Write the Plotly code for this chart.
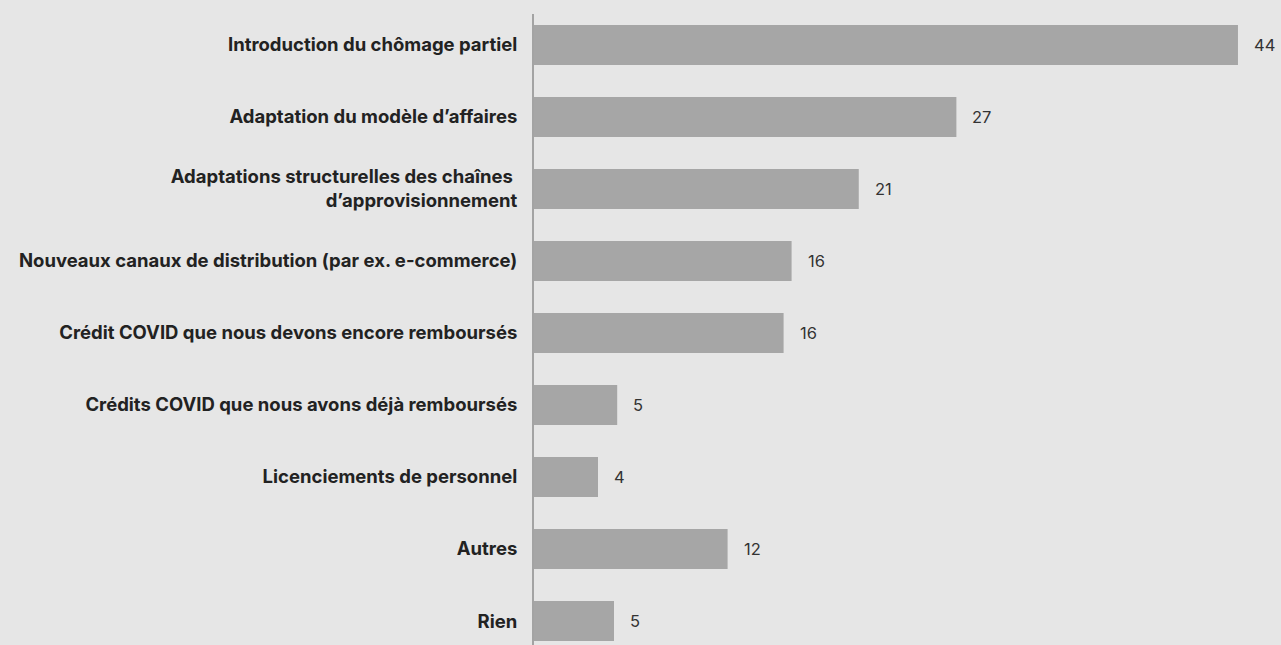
import plotly.graph_objects as go

categories = [
    "Introduction du chômage partiel",
    "Adaptation du modèle d’affaires",
    "Adaptations structurelles des chaînes\u00a0<br>d’approvisionnement",
    "Nouveaux canaux de distribution (par ex. e-commerce)",
    "Crédit COVID que nous devons encore remboursés",
    "Crédits COVID que nous avons déjà remboursés",
    "Licenciements de personnel",
    "Autres",
    "Rien",
]
values = [44.0, 26.4, 20.3, 16.1, 15.6, 5.2, 4.0, 12.1, 5.0]
value_labels = ["44", "27", "21", "16", "16", "5", "4", "12", "5"]

BG = "#e6e6e6"
BAR = "#a6a6a6"

fig = go.Figure()
fig.add_trace(go.Bar(
    x=values,
    y=categories,
    orientation="h",
    marker=dict(color=BAR, line=dict(width=0)),
    hoverinfo="skip",
))

for c, v, t in zip(categories, values, value_labels):
    fig.add_annotation(
        x=v, y=c, text=t, showarrow=False,
        xanchor="left", yanchor="middle", xshift=14,
        font=dict(family="Inter, Roboto, sans-serif", size=16.5, color="#333333"),
    )

fig.update_layout(
    width=1281, height=645,
    paper_bgcolor=BG, plot_bgcolor=BG,
    margin=dict(l=534, r=0, t=14, b=0),
    bargap=0.444,
    showlegend=False,
    xaxis=dict(
        range=[0, 46.69], visible=False, showgrid=False, zeroline=False,
    ),
    yaxis=dict(
        type="category",
        range=[8.333, -0.43],
        showline=True, linecolor="#a3a3a3", linewidth=2,
        showgrid=False, zeroline=False,
        ticks="", ticklabelstandoff=11,
        tickfont=dict(family="Inter, Roboto, sans-serif", size=18.5, color="#222222", weight="bold"),
    ),
)

fig.write_html(
    "out.html",
    config={"displayModeBar": False},
    post_script="document.body.style.margin='0';document.body.style.background='#e6e6e6';",
)
